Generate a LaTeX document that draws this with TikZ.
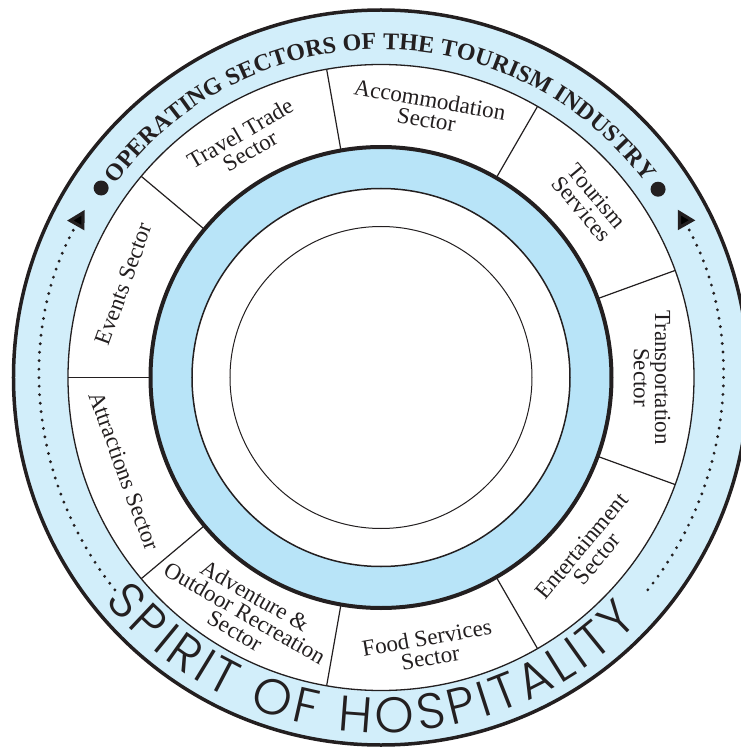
\documentclass[tikz,border=0pt]{standalone}
\usepackage{fontspec}
\setmainfont{Liberation Serif}
\newfontfamily\titlefont{Liberation Serif}
\newfontfamily\spiritfont{Poppins Light}
\usetikzlibrary{decorations.text,arrows.meta}
\definecolor{bandblue}{HTML}{D2EEFA}
\definecolor{ringblue}{HTML}{B8E4F8}
\definecolor{inkgray}{HTML}{231F20}
\begin{document}
\begin{tikzpicture}[x=1pt,y=1pt,
  sectorlabel/.style={font=\fontsize{23}{20}\selectfont, align=center, inner sep=0pt, text=inkgray},
  divider/.style={line width=1.2pt, draw=inkgray},
  dotarc/.style={line width=3.2pt, line cap=round, dash pattern=on 0pt off 8.5pt, draw=inkgray},
  bullet/.style={fill=inkgray},
]
\useasboundingbox (-381,-369.5) rectangle (360,377.5);
\clip (-381,-369.5) rectangle (360,377.5);
% fills
\fill[bandblue] (0,0) circle[radius=367.5];
\fill[white] (0,0) circle[radius=313];
\fill[ringblue] (0,0) circle[radius=230.5];
\fill[white] (0,0) circle[radius=189];
% sector dividers
\foreach \a in {180,140,100,60,20,-20,-60,-100,-140}
  \draw[divider] (\a:230.5) -- (\a:313);
% circle outlines
\draw[inkgray, line width=3.5pt] (0,0) circle[radius=367.5];
\draw[inkgray, line width=1.3pt] (0,0) circle[radius=313];
\draw[inkgray, line width=4pt] (0,0) circle[radius=230.5];
\draw[inkgray, line width=1.5pt] (0,0) circle[radius=189];
\draw[inkgray, line width=1pt] (0,0) circle[radius=151];
% sector labels
\node[sectorlabel, rotate=30] (travel) at (120:272) {Travel Trade\\Sector};
\node[sectorlabel, rotate=-10] (accom) at (80:272) {Accommodation\\Sector};
\node[sectorlabel, rotate=-50] (tourserv) at (40:272) {Tourism\\Services};
\node[sectorlabel, rotate=-90] (transp) at (0:271) {Transportation\\Sector};
\node[sectorlabel, rotate=50] (entert) at (-40:272) {Entertainment\\Sector};
\node[sectorlabel, rotate=10] (food) at (-80:274) {Food Services\\Sector};
\node[sectorlabel, rotate=-30] (adv) at (-120:272) {Adventure \&\\Outdoor Recreation\\Sector};
\node[sectorlabel, rotate=-70] (attr) at (-160:273) {Attractions Sector};
\node[sectorlabel, rotate=70] (events) at (160:274) {Events Sector};
% title along the top
\path[decorate, decoration={text along path, text color=inkgray,
  text={|\titlefont\bfseries\fontsize{24}{24}\selectfont|OPERATING SECTORS OF THE TOURISM INDUSTRY},
  text align=fit to path}]
  (144:328) arc[start angle=144, end angle=36.5, radius=328];
\fill[bullet] (145.9:338) circle[radius=7.5];
\fill[bullet] (34.2:335) circle[radius=7.5];
% dotted arcs with arrowheads
\draw[dotarc, -{Triangle[length=18pt,width=19pt]}] (218.6:340.5) arc[start angle=218.6, end angle=150.5, radius=340.5];
\draw[dotarc, -{Triangle[length=18pt,width=19pt]}] (-38.5:341) arc[start angle=-38.5, end angle=29.5, radius=341];
% spirit of hospitality along the bottom
\path[decorate, decoration={text along path, text color=inkgray,
  text={|\spiritfont\fontsize{50}{50}\selectfont|SPIRIT OF HOSPITALITY},
  text align=fit to path}]
  (219:355) arc[start angle=219, end angle=316.5, radius=355];
\end{tikzpicture}
\end{document}
